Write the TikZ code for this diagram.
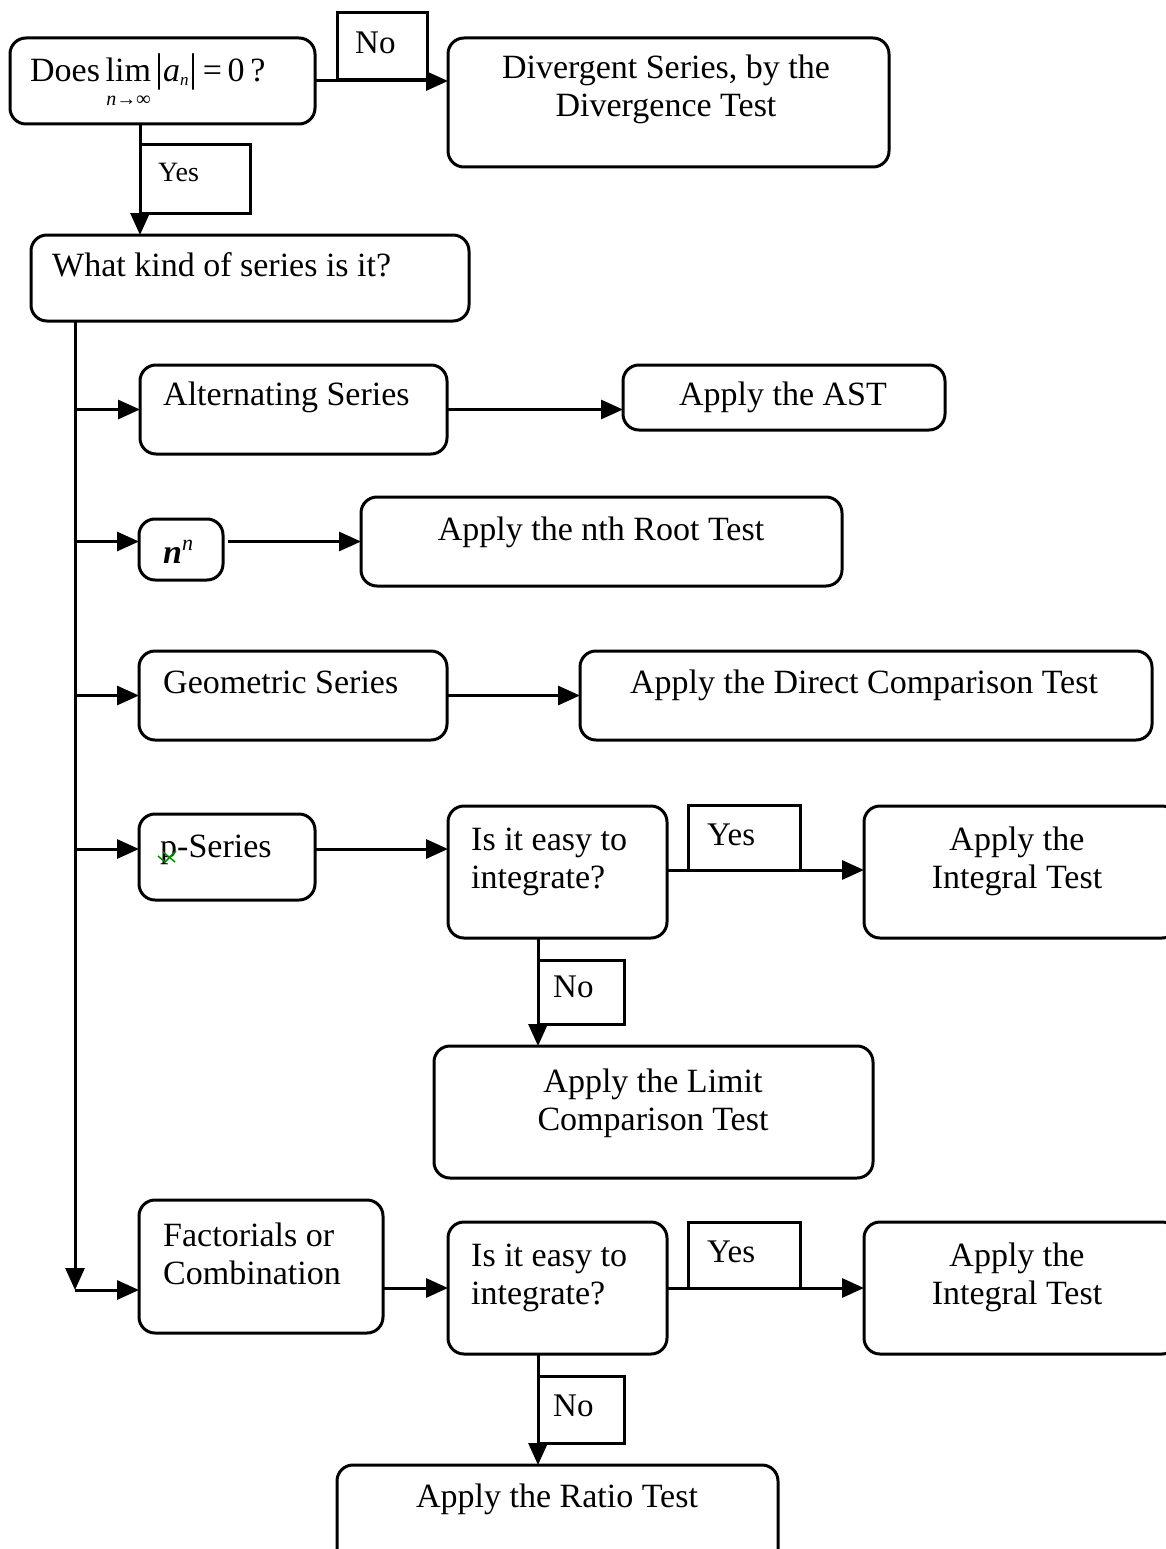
\documentclass[tikz,border=0pt]{standalone}
\usepackage{fontspec}
\setmainfont{Liberation Serif}
\usetikzlibrary{arrows.meta}
\newcommand\bx[6][box]{\node[#1, minimum width={(#5-#3)*1pt}, minimum height={(#6-#4)*1pt}] (#2) at ({(#3+#5)/2},{(#4+#6)/2}) {};}
\begin{document}
\begin{tikzpicture}[x=1pt,y=-1pt,
  box/.style={draw, line width=3pt, rounded corners=16pt, inner sep=0pt, outer sep=0pt},
  lab/.style={draw, line width=3pt, inner sep=0pt, outer sep=0pt},
  txt/.style={inner sep=0pt, font=\fontsize{34}{38}\selectfont, align=left},
  ctxt/.style={inner sep=0pt, font=\fontsize{34}{38}\selectfont, align=center},
  ltxt/.style={inner sep=0pt, font=\fontsize{33}{38}\selectfont},
  conn/.style={line width=3pt, -{Triangle[length=22pt,width=19pt]}},
  plain/.style={line width=3pt}]
\useasboundingbox (0,0) rectangle (1166,1549);
\clip (0,0) rectangle (1166,1549);
% boxes
\bx{A}{10}{38}{315}{124}
\bx{B}{448}{38}{889}{167}
\bx{C}{31}{235}{469}{321}
\bx{D}{140}{365}{447}{454}
\bx{E}{623}{365}{945}{430}
\bx{F}{139}{519}{223}{580}
\bx{G}{361}{497}{842}{586}
\bx{H}{139}{651}{447}{740}
\bx{I}{580}{651}{1152}{740}
\bx{J}{139}{814}{315}{900}
\bx{K}{448}{806}{667}{938}
\bx{L}{864}{806}{1178}{938}
\bx{M}{434}{1046}{873}{1178}
\bx{N}{139}{1200}{383}{1333}
\bx{O}{448}{1222}{667}{1354}
\bx{P}{864}{1222}{1178}{1354}
\bx{Q}{337}{1465}{778}{1570}
% label boxes
\bx[lab]{no0}{337}{13}{427}{80}
\bx[lab]{yes0}{140}{145}{250}{213}
\bx[lab]{yes1}{688}{805}{800}{870}
\bx[lab]{no1}{538}{960}{624}{1024}
\bx[lab]{yes2}{688}{1222}{800}{1288}
\bx[lab]{no2}{538}{1376}{624}{1443}
% texts
\node[txt, anchor=base west] (tA) at (30,82) {Does\,$\mathop{\hbox{lim}}\limits_{\hbox{\rule{0pt}{22pt}\fontsize{20}{20}\selectfont\itshape n→∞}}\hbox{\fontsize{40}{40}\selectfont|}\hbox{\itshape a}_{\hbox{\fontsize{17}{17}\selectfont\itshape n}}\hbox{\fontsize{40}{40}\selectfont|}\hbox{\,=\,0\,?}$};
\node[ctxt, anchor=base] (tB) at (666,117) {Divergent Series, by the\\Divergence Test};
\node[txt, anchor=base west] (tC) at (52,276) {What kind of series is it?};
\node[txt, anchor=base west] (tD) at (163,405) {Alternating Series};
\node[ctxt, anchor=base] (tE) at (783,405) {Apply the AST};
\node[txt, anchor=base west] (tF) at (163,563) {\textbf{\textit{n}}\raisebox{13pt}{\fontsize{22}{22}\selectfont\textit{n}}};
\node[ctxt, anchor=base] (tG) at (601,540) {Apply the nth Root Test};
\node[txt, anchor=base west] (tH) at (163,693) {Geometric Series};
\node[ctxt, anchor=base] (tI) at (864,693) {Apply the Direct Comparison Test};
\node[txt, anchor=base west] (tJ) at (160,857) {p-Series};
\node[txt, anchor=base west] (tK) at (471,888) {Is it easy to\\integrate?};
\node[ctxt, anchor=base] (tL) at (1017,888) {Apply the\\Integral Test};
\node[ctxt, anchor=base] (tM) at (653,1130) {Apply the Limit\\Comparison Test};
\node[txt, anchor=base west] (tN) at (163,1284) {Factorials or\\Combination};
\node[txt, anchor=base west] (tO) at (471,1304) {Is it easy to\\integrate?};
\node[ctxt, anchor=base] (tP) at (1017,1304) {Apply the\\Integral Test};
\node[ctxt, anchor=base] (tQ) at (557,1507) {Apply the Ratio Test};
% label texts
\node[ltxt, anchor=base west] (lno0) at (355,54) {No};
\node[ltxt, anchor=base west, font=\fontsize{28}{30}\selectfont] (lyes0) at (158,182) {Yes};
\node[ltxt, anchor=base west] (lyes1) at (707,845) {Yes};
\node[ltxt, anchor=base west] (lno1) at (553,997) {No};
\node[ltxt, anchor=base west] (lyes2) at (707,1262) {Yes};
\node[ltxt, anchor=base west] (lno2) at (553,1416) {No};
% spell-check squiggle
\draw[green!55!black, line width=1.5pt] (158,856) -- (165,862) -- (176,851) (163,852) -- (175,862);
% connectors
\draw[conn] (A.east) -- (B.west |- A.east);
\draw[conn] (A.south -| yes0.west) -- (C.north -| yes0.west);
\coordinate (t0) at (75,321);
\coordinate (t1) at (75,1290);
\draw[conn] (t0) -- (t1);
\draw[conn] (t1) -- (N.west |- t1);
\draw[conn] (t0 |- D.west) -- (D.west);
\draw[conn] (D.east) -- (E.west |- D.east);
\draw[conn] (t0 |- G.west) -- (F.west |- G.west);
\draw[conn] ([xshift=5pt]F.east |- G.west) -- (G.west);
\draw[conn] (t0 |- H.west) -- (H.west);
\draw[conn] (H.east) -- (I.west |- H.east);
\coordinate (jy) at ([yshift=8pt]J.west);
\draw[conn] (t0 |- jy) -- (jy);
\draw[conn] (J.east |- jy) -- (K.west |- jy);
\draw[conn] (K.east |- yes1.south) -- (L.west |- yes1.south);
\draw[conn] (K.south -| no1.west) -- (M.north -| no1.west);
\draw[conn] (N.east |- O.west) -- (O.west);
\draw[conn] (O.east |- yes2.south) -- (P.west |- yes2.south);
\draw[conn] (O.south -| no2.west) -- (Q.north -| no2.west);
\end{tikzpicture}
\end{document}
